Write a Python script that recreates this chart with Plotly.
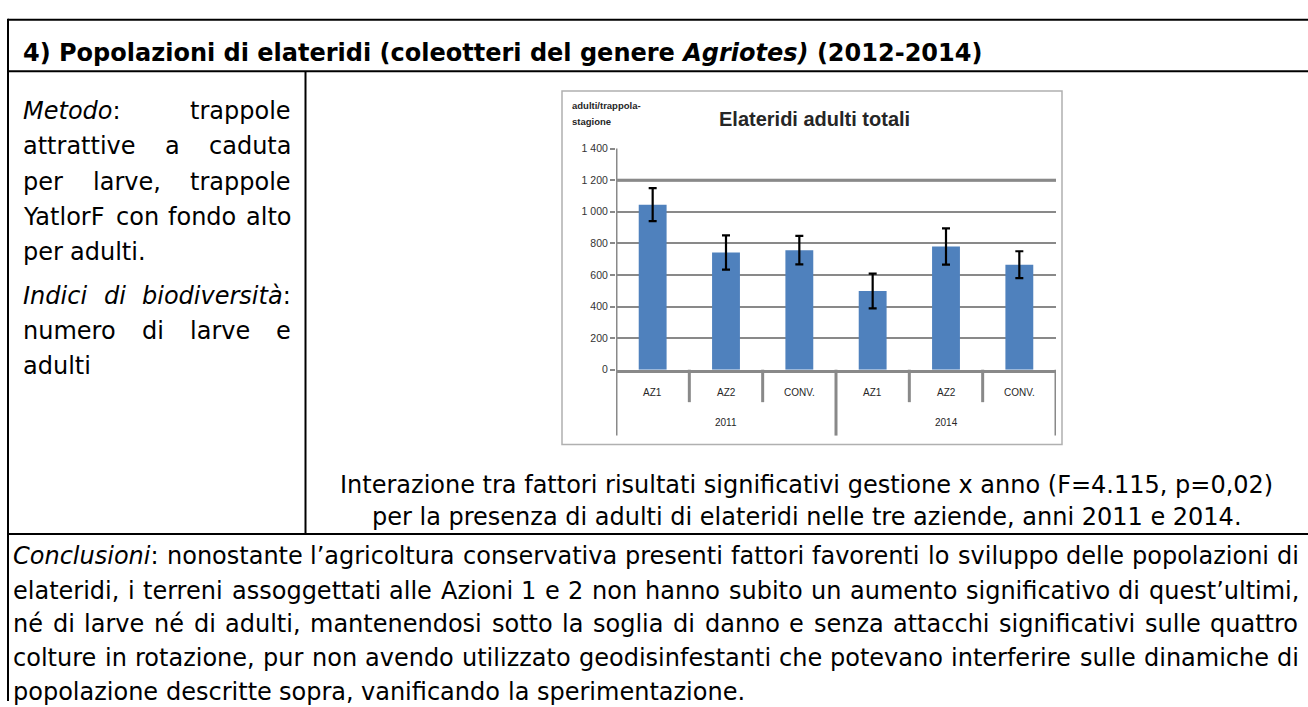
import re
import plotly.graph_objects as go

# ---------------------------------------------------------------- data
treatments = ["AZ1", "AZ2", "CONV.", "AZ1", "AZ2", "CONV."]
years = ["2011", "2011", "2011", "2014", "2014", "2014"]
adults_mean = [1045, 742, 757, 498, 780, 665]
adults_err = [105, 108, 90, 110, 115, 85]
y_ticks = [0, 200, 400, 600, 800, 1000, 1200, 1400]
highlight_level = 1200

W, H = 1308, 707
BODY = "DejaVu Sans"
CHART = "Liberation Sans"
GRID = "#898989"


def px(x):
    return x / W


def py(y):
    return 1 - y / H


# advance widths of DejaVu Sans (units per em = 2048), used to justify lines
ADV = {
    " ": 651, ",": 651, ".": 651, ":": 690, "’": 651, "'": 563, "(": 799, ")": 799,
    "-": 739, "=": 1716, "1": 1303, "2": 1303,
    "A": 1401, "C": 1430, "F": 1178, "I": 604, "M": 1767, "Y": 1251,
    "a": 1255, "b": 1300, "c": 1126, "d": 1300, "e": 1260, "f": 721, "g": 1300,
    "h": 1298, "i": 569, "j": 569, "k": 1186, "l": 569, "m": 1995, "n": 1298,
    "o": 1253, "p": 1300, "q": 1300, "r": 842, "s": 1067, "t": 803, "u": 1298,
    "v": 1212, "w": 1675, "x": 1212, "y": 1212, "z": 1075, "é": 1260, "à": 1255,
}


def text_width(s, size):
    plain = re.sub(r"<[^>]+>", "", s)
    return sum(ADV.get(c, 1200) for c in plain) / 2048 * size


annotations = []
shapes = []


def body_text(text, x, baseline, size=24, anchor="left", bold=False):
    annotations.append(dict(
        text=f"<b>{text}</b>" if bold else text,
        x=px(x), y=py(baseline - 0.346 * size), xref="paper", yref="paper",
        xanchor=anchor, yanchor="middle", showarrow=False, borderpad=0,
        font=dict(family=BODY, size=size, color="black"),
    ))


def paragraph_line(line, left, right, baseline, justify=True, size=24):
    words = line.split(" ")
    widths = [text_width(w, size) for w in words]
    if justify and len(words) > 1:
        gap = (right - left - sum(widths)) / (len(words) - 1)
    else:
        gap = ADV[" "] / 2048 * size
    x = left
    for w, wd in zip(words, widths):
        body_text(w, x, baseline, size)
        x += wd + gap


def rule(x0, y0, x1, y1, width=2, color="black"):
    shapes.append(dict(type="line", xref="paper", yref="paper",
                       x0=px(x0), y0=py(y0), x1=px(x1), y1=py(y1),
                       line=dict(color=color, width=width)))


# ---------------------------------------------------------------- table frame
rule(8, 14, W, 14)
rule(8, 13, 8, H)
rule(8, 66.5, W, 66.5)
rule(305.5, 66.5, 305.5, 537)
rule(8, 537, W, 537)

body_text("4) Popolazioni di elateridi (coleotteri del genere <i>Agriotes)</i> (2012-2014)",
          22, 56, bold=True)

# left column
method_lines = ["<i>Metodo</i>: trappole", "attrattive a caduta", "per larve, trappole",
                "YatlorF con fondo alto", "per adulti."]
method_base = [115, 151, 187, 223, 259]
for i, (ln, b) in enumerate(zip(method_lines, method_base)):
    paragraph_line(ln, 22, 290, b, justify=i < len(method_lines) - 1)

index_lines = ["<i>Indici</i> <i>di</i> <i>biodiversità</i>:", "numero di larve e", "adulti"]
index_base = [303, 339, 375]
for i, (ln, b) in enumerate(zip(index_lines, index_base)):
    paragraph_line(ln, 22, 290, b, justify=i < len(index_lines) - 1)

# caption under the chart
body_text("Interazione tra fattori risultati significativi gestione x anno (F=4.115, p=0,02)",
          806.5, 496, anchor="center")
body_text("per la presenza di adulti di elateridi nelle tre aziende, anni 2011 e 2014.",
          806.5, 528, anchor="center")

# conclusions
concl_lines = [
    "<i>Conclusioni</i>: nonostante l’agricoltura conservativa presenti fattori favorenti lo sviluppo delle popolazioni di",
    "elateridi, i terreni assoggettati alle Azioni 1 e 2 non hanno subito un aumento significativo di quest’ultimi,",
    "né di larve né di adulti, mantenendosi sotto la soglia di danno e senza attacchi significativi sulle quattro",
    "colture in rotazione, pur non avendo utilizzato geodisinfestanti che potevano interferire sulle dinamiche di",
    "popolazione descritte sopra, vanificando la sperimentazione.",
]
concl_base = [568, 603, 637, 672, 706]
for i, (ln, b) in enumerate(zip(concl_lines, concl_base)):
    paragraph_line(ln, 12, 1298, b, justify=i < len(concl_lines) - 1)

# ---------------------------------------------------------------- chart
xpos = list(range(len(treatments)))

# chart frame
shapes.append(dict(type="rect", xref="paper", yref="paper",
                   x0=px(562), x1=px(1062), y0=py(446), y1=py(86.5),
                   line=dict(color="#b0b0b0", width=1.5), layer="below"))

# thicker reference gridline
shapes.append(dict(type="line", xref="x", yref="y", x0=-0.5, x1=len(xpos) - 0.5,
                   y0=highlight_level, y1=highlight_level,
                   line=dict(color="#7a7a7a", width=3), layer="below"))

# vertical axis line, running down through the category label area
shapes.append(dict(type="line", xref="x", yref="paper", x0=-0.5, x1=-0.5,
                   y0=py(145), y1=py(437), line=dict(color=GRID, width=3)))

# category / group dividers
for i in range(len(xpos)):
    edge = i + 0.5
    last = i == len(xpos) - 1
    group_end = last or years[i] != years[i + 1]
    shapes.append(dict(type="line", xref="x", yref="paper", x0=edge, x1=edge,
                       y0=py(370), y1=py(437 if group_end else 403),
                       line=dict(color=GRID, width=3)))

LABEL_FONT = dict(family=CHART, size=10, color="#262626")
for i, t in enumerate(treatments):
    annotations.append(dict(text=t, x=xpos[i], y=py(393), xref="x", yref="paper",
                            showarrow=False, xanchor="center", yanchor="middle",
                            font=LABEL_FONT))
for yr in dict.fromkeys(years):
    idx = [xpos[i] for i, v in enumerate(years) if v == yr]
    annotations.append(dict(text=yr, x=sum(idx) / len(idx), y=py(424), xref="x",
                            yref="paper", showarrow=False, xanchor="center",
                            yanchor="middle", font=LABEL_FONT))

annotations.append(dict(text="<b>Elateridi adulti totali</b>", x=px(814), y=py(115),
                        xref="paper", yref="paper", showarrow=False,
                        xanchor="center", yanchor="middle",
                        font=dict(family=CHART, size=20, color="#262626")))
annotations.append(dict(text="<b>adulti/trappola-</b>", x=px(570), y=py(101),
                        xref="paper", yref="paper", showarrow=False,
                        xanchor="left", yanchor="middle",
                        font=dict(family=CHART, size=9.5, color="#262626")))
annotations.append(dict(text="<b>stagione</b>", x=px(570), y=py(117),
                        xref="paper", yref="paper", showarrow=False,
                        xanchor="left", yanchor="middle",
                        font=dict(family=CHART, size=9.5, color="#262626")))

fig = go.Figure(go.Bar(
    x=xpos, y=adults_mean, width=0.38,
    marker=dict(color="#4F81BD", line=dict(width=0)),
    error_y=dict(type="data", array=adults_err, visible=True,
                 color="black", thickness=2.2, width=4),
    showlegend=False, hoverinfo="skip",
))

fig.update_layout(
    width=W, height=H,
    margin=dict(l=0, r=0, t=0, b=0),
    paper_bgcolor="white", plot_bgcolor="white",
    separators=", ",
    xaxis=dict(domain=[px(616), px(1056)], range=[-0.5, len(xpos) - 0.5],
               showticklabels=False, ticks="", showgrid=False, zeroline=False,
               showline=True, linecolor=GRID, linewidth=3, fixedrange=True),
    yaxis=dict(domain=[py(370), py(145)], range=[0, 1400], tickvals=y_ticks,
               tickformat=",", showgrid=True, gridcolor=GRID, gridwidth=2,
               ticks="outside", ticklen=5, tickwidth=2, tickcolor=GRID,
               showline=False, zeroline=False, fixedrange=True,
               tickfont=dict(family=CHART, size=10.5, color="#333333")),
    shapes=shapes,
    annotations=annotations,
)

fig.write_html("out.html")
